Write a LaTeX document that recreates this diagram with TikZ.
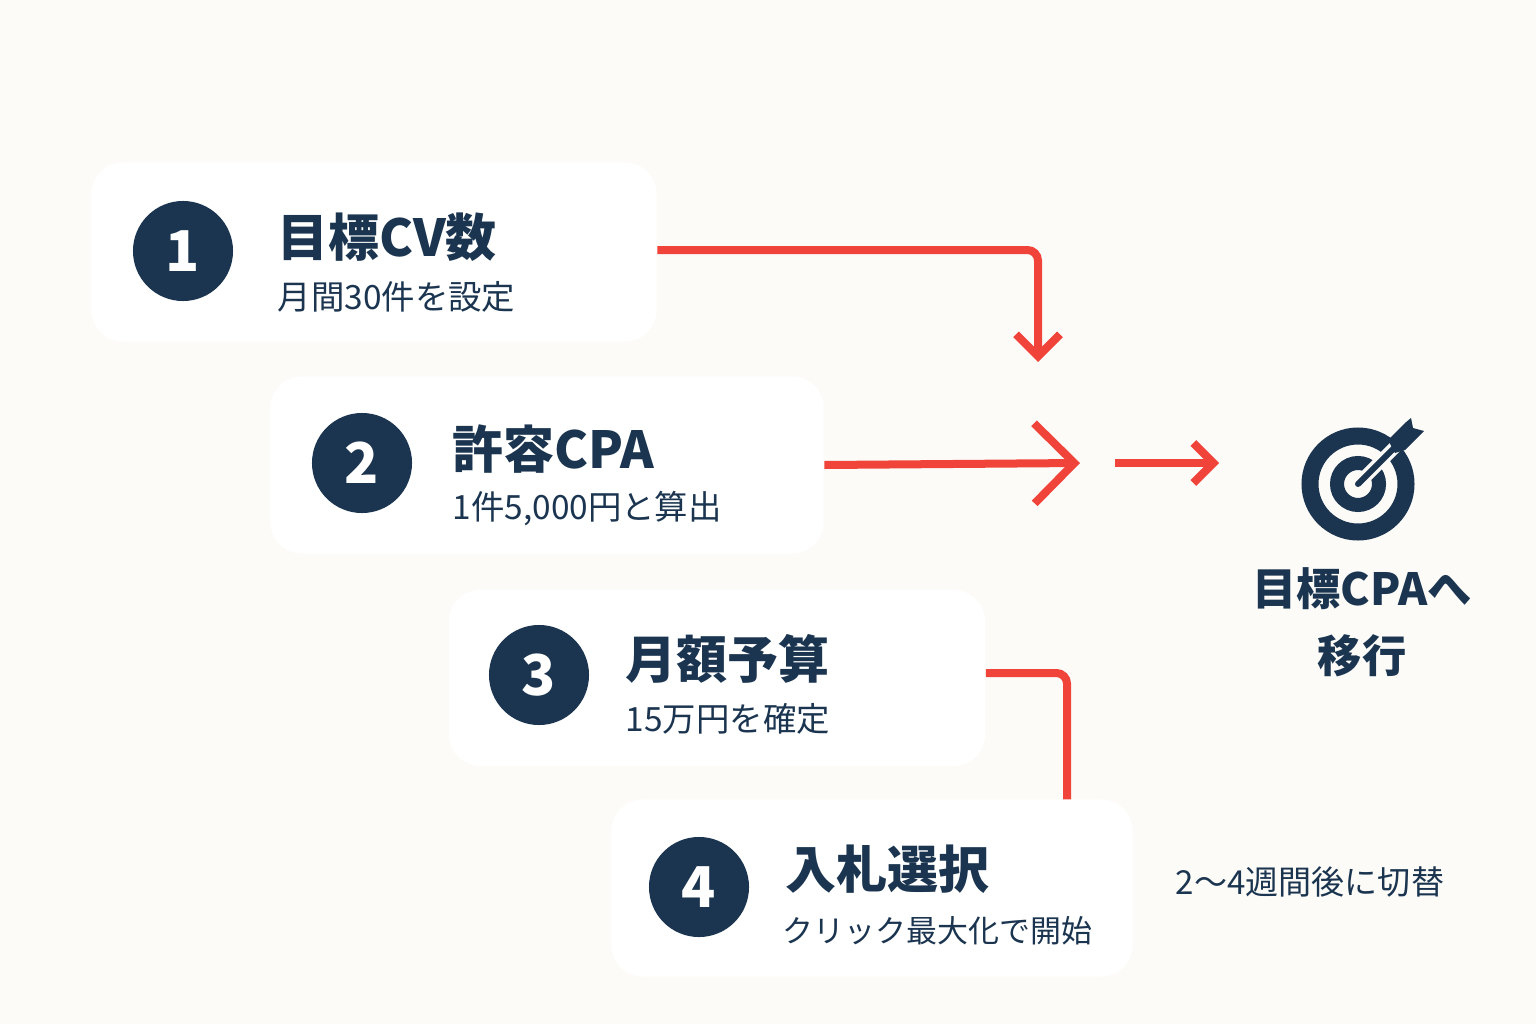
\documentclass[tikz,border=0pt]{standalone}
\usepackage{fontspec}
\setmainfont{Noto Sans CJK JP}
\usetikzlibrary{positioning,arrows.meta}
\definecolor{navy}{HTML}{1B3550}
\definecolor{flowred}{HTML}{F0433A}
\definecolor{paper}{HTML}{FCFBF8}
\tikzset{
  card/.style={fill=white, rounded corners=9pt, inner sep=0pt},
  num/.style={circle, fill=navy, text=white, minimum size=1.0cm, inner sep=0pt, font=\fontsize{16}{16}\selectfont\bfseries},
  title/.style={anchor=west, text=navy, inner sep=0pt, font=\fontsize{14.5}{15}\selectfont\bfseries},
  sub/.style={anchor=west, text=navy, inner sep=0pt, font=\fontsize{9.5}{10}\selectfont},
  flow/.style={flowred, line width=0.8mm},
  chev/.style={-{Straight Barb[length=#1, width=2*#1, line width=0.8mm]}},
}
\begin{document}
\begin{tikzpicture}[x=0.01cm, y=-0.01cm]
	     \useasboundingbox[fill=paper] (0,0) rectangle (1536,1024);
	     % steps
	     \node[card, minimum width=5.65cm, minimum height=1.79cm] (B1) at (374,252) {};
	     \node[card, minimum width=5.53cm, minimum height=1.77cm] (B2) at (547,465) {};
	     \node[card, minimum width=5.36cm, minimum height=1.76cm] (B3) at (717,678) {};
	     \node[num] (N1) at (183,251) {1};
	     \node[num] (N2) at (362,463) {2};
	     \node[num] (N3) at (539,675) {3};
	     \node[title] (T1) at (277,237) {目標CV数};
	     \node[sub]   (S1) at (277,297) {月間30件を設定};
	     \node[title] (T2) at (452,449) {許容CPA};
	     \node[sub]   (S2) at (452,509) {1件5,000円と算出};
	     \node[title] (T3) at (625,659) {月額予算};
	     \node[sub]   (S3) at (625,719) {15万円を確定};
	     % connectors
	     \coordinate (K1) at (1038,250);
	     \coordinate (E1) at (1038,362);
	     \coordinate (E2) at (1080,463);
	     \coordinate (D0) at (1115,463);
	     \coordinate (D1) at (1219,463);
	     \coordinate (K3) at (1067,673);
	     \coordinate (E3) at (1067,810);
	     \draw[flow, chev=2.2mm, rounded corners=3pt] (B1.east |- K1) -- (K1) -- (E1);
	     \draw[flow, chev=4mm] (B2.east) -- (E2);
	     \draw[flow, chev=2mm] (D0) -- (D1);
	     \draw[flow, rounded corners=3pt] (B3.east |- K3) -- (K3) -- (E3);
	     % step 4 above the line
	     \node[card, minimum width=5.21cm, minimum height=1.77cm] (B4) at (872,888) {};
	     \node[num] (N4) at (699,887) {4};
	     \node[title] (T4) at (785,869) {入札選択};
	     \node[sub, font=\fontsize{8.8}{9}\selectfont] (S4) at (782,931) {クリック最大化で開始};
	     \node[sub, anchor=center, font=\fontsize{9.4}{10}\selectfont] (W) at (1310,882) {2～4週間後に切替};
	     % target
	     \coordinate (G) at (1358,484);
	     \draw[navy, line width=0.17cm] (G) circle[radius=48];
	     \draw[navy, line width=0.14cm] (G) circle[radius=21];
	     \draw[paper, line width=0.13cm] (G) -- (1412,430);
	     \draw[navy, line width=0.06cm, line cap=round] (G) -- (1395,447);
	     \fill[navy] (1388,440) -- (1405,423) -- (1411,418) -- (1413,428) -- (1424,431) -- (1405,450) -- (1395,453) -- cycle;
	     \node[title, anchor=center, align=center, font=\fontsize{12.6}{19}\selectfont\bfseries] (L) at (1362,622) {目標CPAへ\\移行};
\end{tikzpicture}
\end{document}
